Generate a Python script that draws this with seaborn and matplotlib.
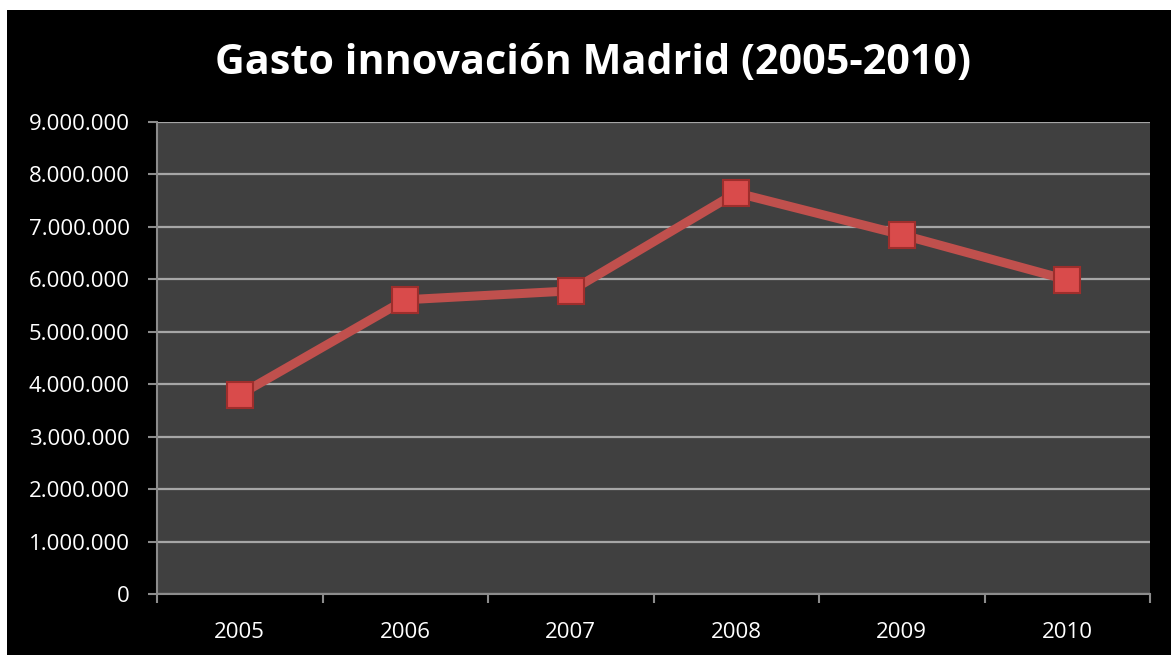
import matplotlib
matplotlib.use("Agg")
import matplotlib.pyplot as plt
import matplotlib.ticker as mticker
import seaborn as sns
import pandas as pd
from matplotlib.patches import Rectangle

years = ["2005", "2006", "2007", "2008", "2009", "2010"]
gasto = [3800000, 5610000, 5780000, 7650000, 6850000, 5990000]
title = "Gasto innovación Madrid (2005-2010)"

sns.set_theme(style="dark")
plt.rcParams["font.family"] = ["Open Sans", "DejaVu Sans"]

df = pd.DataFrame({"year": years, "gasto": gasto})

fig = plt.figure(figsize=(11.71, 6.55), dpi=100)
fig.patch.set_facecolor("white")
fig.patches.append(Rectangle((7 / 1171, 0), 1 - 7 / 1171, 1 - 10 / 655,
                             transform=fig.transFigure, facecolor="black",
                             edgecolor="none", zorder=-10))
ax = fig.add_axes([157 / 1171, 61 / 655, (1150 - 157) / 1171, (594 - 122) / 655])
ax.set_zorder(5)
ax.set_facecolor("#404040")

sns.lineplot(data=df, x="year", y="gasto", ax=ax, color="#C0504D", linewidth=6.5,
             marker="s", markersize=18.5, markerfacecolor="#D94B4B",
             markeredgecolor="#9E2E2C", markeredgewidth=1.5, sort=False)

ax.set_ylim(0, 9000000)
ax.set_xlim(-0.5, 5.5)
ax.yaxis.set_major_locator(mticker.MultipleLocator(1000000))
ax.yaxis.set_major_formatter(mticker.FuncFormatter(lambda v, p: f"{int(v):,}".replace(",", ".")))
ax.set_xticks([i for i in range(6)])
ax.set_xticks([i - 0.5 for i in range(7)], minor=True)
ax.grid(True, axis="y", color="#A6A6A6", linewidth=1.6)
ax.grid(False, axis="x")
ax.set_axisbelow(True)
ax.tick_params(axis="x", which="major", length=0, pad=20, labelsize=16, colors="white")
ax.tick_params(axis="x", which="minor", length=6.5, width=1.5, color="#8C8C8C", bottom=True)
ax.tick_params(axis="y", length=6.5, width=1.5, color="#8C8C8C", labelsize=16,
               labelcolor="white", left=True, pad=13)
for s in ["top", "right"]:
    ax.spines[s].set_visible(False)
for s in ["left", "bottom"]:
    ax.spines[s].set_visible(True)
    ax.spines[s].set_color("#8C8C8C")
    ax.spines[s].set_linewidth(1.5)
ax.set_xlabel("")
ax.set_ylabel("")

fig.text(593 / 1171, 1 - 64 / 655, title, ha="center", va="center", color="white",
         fontsize=29.7, fontweight="bold")

fig.savefig("out.png", dpi=100)
